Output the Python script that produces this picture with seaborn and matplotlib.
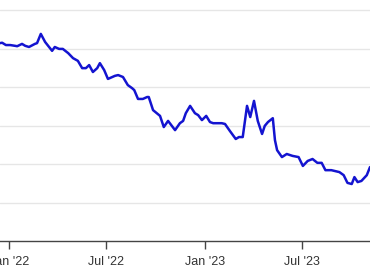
import matplotlib
matplotlib.use("Agg")
import matplotlib.pyplot as plt
import matplotlib.dates as mdates
import seaborn as sns
import pandas as pd

dates = [
    "2021-12-15", "2021-12-19", "2021-12-26", "2022-01-03", "2022-01-12", "2022-01-16",
    "2022-01-25", "2022-01-31", "2022-02-07", "2022-02-18", "2022-02-22", "2022-03-01",
    "2022-03-09", "2022-03-22", "2022-03-27", "2022-04-04", "2022-04-11", "2022-04-21",
    "2022-04-30", "2022-05-09", "2022-05-17", "2022-05-24", "2022-05-30", "2022-06-06",
    "2022-06-14", "2022-06-19", "2022-06-27", "2022-07-04", "2022-07-17", "2022-07-23",
    "2022-08-01", "2022-08-10", "2022-08-18", "2022-08-22", "2022-08-29", "2022-09-07",
    "2022-09-15", "2022-09-18", "2022-09-26", "2022-10-09", "2022-10-16", "2022-10-24",
    "2022-11-06", "2022-11-15", "2022-11-21", "2022-11-26", "2022-12-04", "2022-12-13",
    "2022-12-19", "2022-12-26", "2023-01-03", "2023-01-10", "2023-01-16", "2023-01-25",
    "2023-02-01", "2023-02-07", "2023-02-16", "2023-02-27", "2023-03-05", "2023-03-12",
    "2023-03-20", "2023-03-26", "2023-04-02", "2023-04-09", "2023-04-17", "2023-04-22",
    "2023-04-28", "2023-05-07", "2023-05-11", "2023-05-15", "2023-05-24", "2023-06-02",
    "2023-06-13", "2023-06-24", "2023-07-02", "2023-07-11", "2023-07-20", "2023-07-29",
    "2023-08-06", "2023-08-13", "2023-08-24", "2023-09-08", "2023-09-16", "2023-09-23",
    "2023-10-01", "2023-10-06", "2023-10-12", "2023-10-19", "2023-10-29", "2023-11-04",
]
values = [
    5.14, 5.15, 5.09, 5.09, 5.07, 5.06,
    5.12, 5.07, 5.04, 5.12, 5.14, 5.38,
    5.17, 4.94, 5.04, 4.99, 4.99, 4.88,
    4.75, 4.68, 4.49, 4.49, 4.57, 4.39,
    4.49, 4.62, 4.44, 4.21, 4.29, 4.31,
    4.26, 4.05, 3.97, 3.92, 3.69, 3.69,
    3.74, 3.74, 3.40, 3.25, 2.96, 3.12,
    2.88, 3.06, 3.12, 3.32, 3.51, 3.32,
    3.27, 3.14, 3.25, 3.09, 3.06, 3.06,
    3.06, 3.04, 2.86, 2.65, 2.70, 2.70,
    3.51, 3.22, 3.64, 3.12, 2.78, 2.99,
    3.09, 3.19, 2.62, 2.36, 2.18, 2.26,
    2.21, 2.18, 1.95, 2.08, 2.13, 2.03,
    2.03, 1.84, 1.84, 1.79, 1.71, 1.51,
    1.48, 1.66, 1.53, 1.56, 1.71, 1.92,
]
tick_dates = ["2022-01-01", "2022-07-01", "2023-01-01", "2023-07-01"]
grid_values = [0, 1, 2, 3, 4, 5, 6]

df = pd.DataFrame({"date": pd.to_datetime(dates), "value": values})

sns.set_theme(style="white")
plt.rcParams["font.family"] = ["Liberation Sans", "DejaVu Sans"]

fig = plt.figure(figsize=(3.70, 2.78), dpi=100)
ax = fig.add_axes([0.0, 37 / 278, 1.0, 240.6 / 278])

for g in grid_values[1:]:
    ax.axhline(g, color="#e6e6e6", lw=1.0, zorder=0)

sns.lineplot(data=df, x="date", y="value", ax=ax, color="#1414d0", lw=1.8, zorder=3)

ax.set_xlim(pd.Timestamp("2021-12-15"), pd.Timestamp("2023-11-04"))
ax.set_ylim(0, 6.25)
ax.set_xticks(pd.to_datetime(tick_dates))
ax.xaxis.set_major_formatter(mdates.DateFormatter("%b '%y"))
ax.set_yticks([])
ax.set_xlabel("")
ax.set_ylabel("")
for s in ["top", "left", "right"]:
    ax.spines[s].set_visible(False)
ax.spines["bottom"].set_color("#444444")
ax.spines["bottom"].set_linewidth(1.0)
ax.tick_params(axis="x", which="major", direction="out", length=6, width=1,
               color="#444444", labelsize=9, labelcolor="#333333", pad=4.5, bottom=True)

fig.savefig("out.png", dpi=100)
